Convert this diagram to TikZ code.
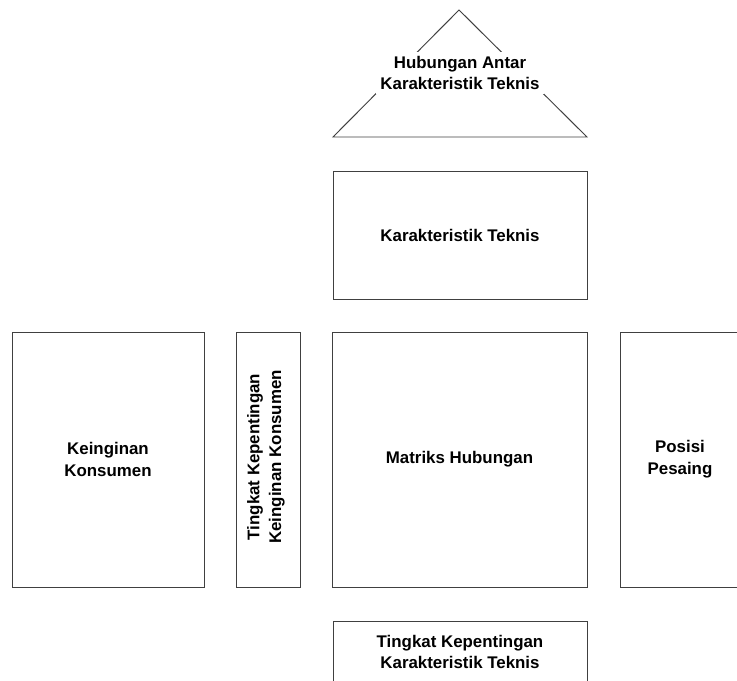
\documentclass[tikz,border=0pt]{standalone}
\usepackage{fontspec}
\setmainfont{Liberation Sans}
\usepackage{tikz}
\usetikzlibrary{calc,positioning}
\tikzset{
    blok/.style={draw=black!75, line width=0.7pt, inner sep=0pt, font=\bfseries\fontsize{12}{15.5}\selectfont, align=center},
    judul/.style={fill=white, inner sep=1pt, font=\bfseries\fontsize{12}{15.5}\selectfont, align=center}}

\begin{document}
\begin{tikzpicture}[x=0.025cm, y=-0.025cm]
\useasboundingbox (0,0) rectangle (737,681);
\clip (0,0) rectangle (737,681);

\coordinate (puncak) at (459,10);
\coordinate (kiri) at (333,137);
\coordinate (kanan) at (587,137);
%atap
\draw[draw=black!75, line width=0.7pt] (kiri) -- (puncak) -- (kanan) -- cycle;
\node[judul, inner sep=3pt] (atap) at (460,73) {Hubungan Antar\\Karakteristik Teknis};

%kotak
\node[blok, minimum width=254*0.025cm, minimum height=128*0.025cm] (teknis) at (460,235) {Karakteristik Teknis};
\node[blok, minimum width=192*0.025cm, minimum height=255*0.025cm] (konsumen) at (108,459.5) {Keinginan\\Konsumen};
\node[blok, minimum width=64*0.025cm, minimum height=255*0.025cm] (tingkat) at (268,459.5) {};
\node[rotate=90, judul, fill=none] (tingkatlbl) at (266,457) {Tingkat Kepentingan\\Keinginan Konsumen};
\node[blok, minimum width=255*0.025cm, minimum height=255*0.025cm] (matriks) at (459.5,459.5) {Matriks Hubungan};
\node[blok, minimum width=140*0.025cm, minimum height=255*0.025cm] (pesaing) at (690,459.5) {};
\node[judul, fill=none] (pesainglbl) at (680,459.5) {Posisi\\Pesaing};
\node[blok, minimum width=254*0.025cm, minimum height=120*0.025cm] (prioritas) at (460,681) {};
\node[judul, fill=none] (prioritaslbl) at (460,652) {Tingkat Kepentingan\\Karakteristik Teknis};

\end{tikzpicture}
\end{document}
